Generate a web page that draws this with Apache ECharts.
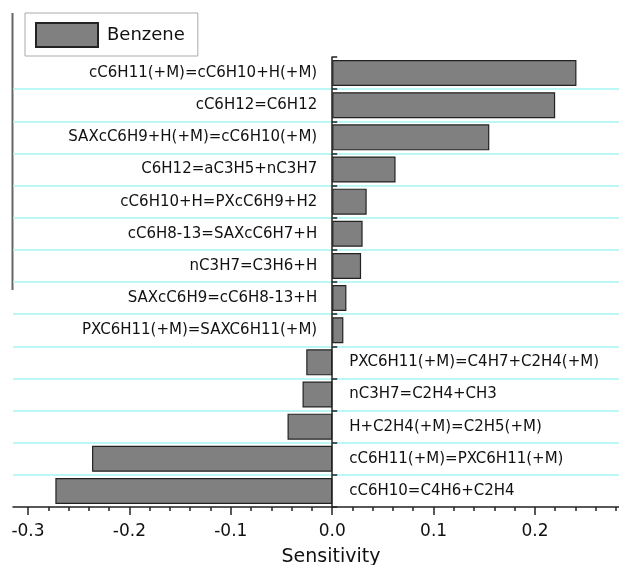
<!DOCTYPE html>
<html>
<head>
<meta charset="utf-8">
<script src="https://cdn.jsdelivr.net/npm/echarts@6/dist/echarts.min.js"></script>
<style>
html,body{margin:0;padding:0;background:#fff;}
#chart{width:619px;height:565px;}
</style>
</head>
<body>
<div id="chart"></div>
<script>
var categories = [
  'cC6H11(+M)=cC6H10+H(+M)',
  'cC6H12=C6H12',
  'SAXcC6H9+H(+M)=cC6H10(+M)',
  'C6H12=aC3H5+nC3H7',
  'cC6H10+H=PXcC6H9+H2',
  'cC6H8-13=SAXcC6H7+H',
  'nC3H7=C3H6+H',
  'SAXcC6H9=cC6H8-13+H',
  'PXC6H11(+M)=SAXC6H11(+M)',
  'PXC6H11(+M)=C4H7+C2H4(+M)',
  'nC3H7=C2H4+CH3',
  'H+C2H4(+M)=C2H5(+M)',
  'cC6H11(+M)=PXC6H11(+M)',
  'cC6H10=C4H6+C2H4'
];
var benzene = [0.241, 0.220, 0.155, 0.0625, 0.034, 0.030, 0.0285, 0.014, 0.011,
               -0.0256, -0.0293, -0.0441, -0.237, -0.2732];
var seriesName = 'Benzene';
var xMajorTicks = [-0.3, -0.2, -0.1, 0.0, 0.1, 0.2];

var FONT = 'DejaVu Sans';
var chart = echarts.init(document.getElementById('chart'));

var barData = benzene.map(function (v, i) {
  return {
    value: v,
    label: v >= 0 ? { position: 'left', distance: 15 } : { position: 'right', distance: 17 }
  };
});

var option = {
  animation: false,
  backgroundColor: '#fff',
  legend: {
    data: [seriesName],
    left: 25, top: 13,
    padding: [9, 13, 8, 10],
    borderColor: '#aaa', borderWidth: 1,
    itemWidth: 62, itemHeight: 24,
    icon: 'rect',
    textStyle: { fontFamily: FONT, fontSize: 18, color: '#111', padding: [0, 0, 0, 4] }
  },
  graphic: [{
    type: 'line',
    shape: { x1: 12.5, y1: 13, x2: 12.5, y2: 290 },
    style: { stroke: '#666', lineWidth: 2 }
  }],
  grid: [
    { left: 13, right: 0, top: 57, bottom: 58, outerBoundsMode: 'none', containLabel: false },
    { left: 28, right: 3, top: 57, bottom: 58, outerBoundsMode: 'none', containLabel: false },
    { left: 28, right: 84, top: 57, bottom: 58, outerBoundsMode: 'none', containLabel: false }
  ],
  xAxis: [
    {
      gridIndex: 0, type: 'value', min: -0.315, max: 0.283,
      axisLine: { show: true, onZero: false, lineStyle: { color: '#222', width: 1.5 } },
      axisTick: { show: false }, axisLabel: { show: false }, splitLine: { show: false },
      name: 'Sensitivity', nameLocation: 'middle', nameGap: 41,
      nameTextStyle: { fontFamily: FONT, fontSize: 19, color: '#111', padding: [0, 0, 0, 30] }
    },
    {
      gridIndex: 1, type: 'value', min: -0.3, max: 0.28, interval: 0.02,
      axisLine: { show: false, onZero: false },
      axisTick: { show: true, length: 4, lineStyle: { color: '#222', width: 1.5 } },
      axisLabel: { show: false }, splitLine: { show: false }
    },
    {
      gridIndex: 2, type: 'value', min: -0.3, max: 0.2, interval: 0.1,
      axisLine: { show: false, onZero: false },
      axisTick: { show: true, length: 8, lineStyle: { color: '#222', width: 1.5 } },
      axisLabel: {
        show: true, margin: 16, fontFamily: FONT, fontSize: 17, color: '#111',
        formatter: function (v) {
          var m = xMajorTicks.filter(function (t) { return Math.abs(t - v) < 1e-6; });
          return m.length ? m[0].toFixed(1) : '';
        }
      },
      splitLine: { show: false }
    }
  ],
  yAxis: [
    {
      gridIndex: 0, type: 'category', inverse: true, data: categories,
      axisLine: { show: true, onZero: true, lineStyle: { color: '#222', width: 1.5 } },
      axisTick: { show: true, inside: true, length: 5, lineStyle: { color: '#222', width: 1.5 } },
      axisLabel: { show: false },
      splitLine: { show: true, showMinLine: false, showMaxLine: false, lineStyle: { color: '#a6f4f6', width: 1.5 } }
    },
    { gridIndex: 1, type: 'category', data: categories, show: false },
    { gridIndex: 2, type: 'category', data: categories, show: false }
  ],
  series: [{
    name: seriesName,
    type: 'bar',
    xAxisIndex: 0, yAxisIndex: 0,
    data: barData,
    barWidth: 26,
    itemStyle: { color: '#808080', borderColor: '#222', borderWidth: 1.2 },
    label: {
      show: true, fontFamily: FONT, fontSize: 15, color: '#111',
      formatter: function (p) { return categories[p.dataIndex]; }
    }
  }]
};
chart.setOption(option);
</script>
</body>
</html>
